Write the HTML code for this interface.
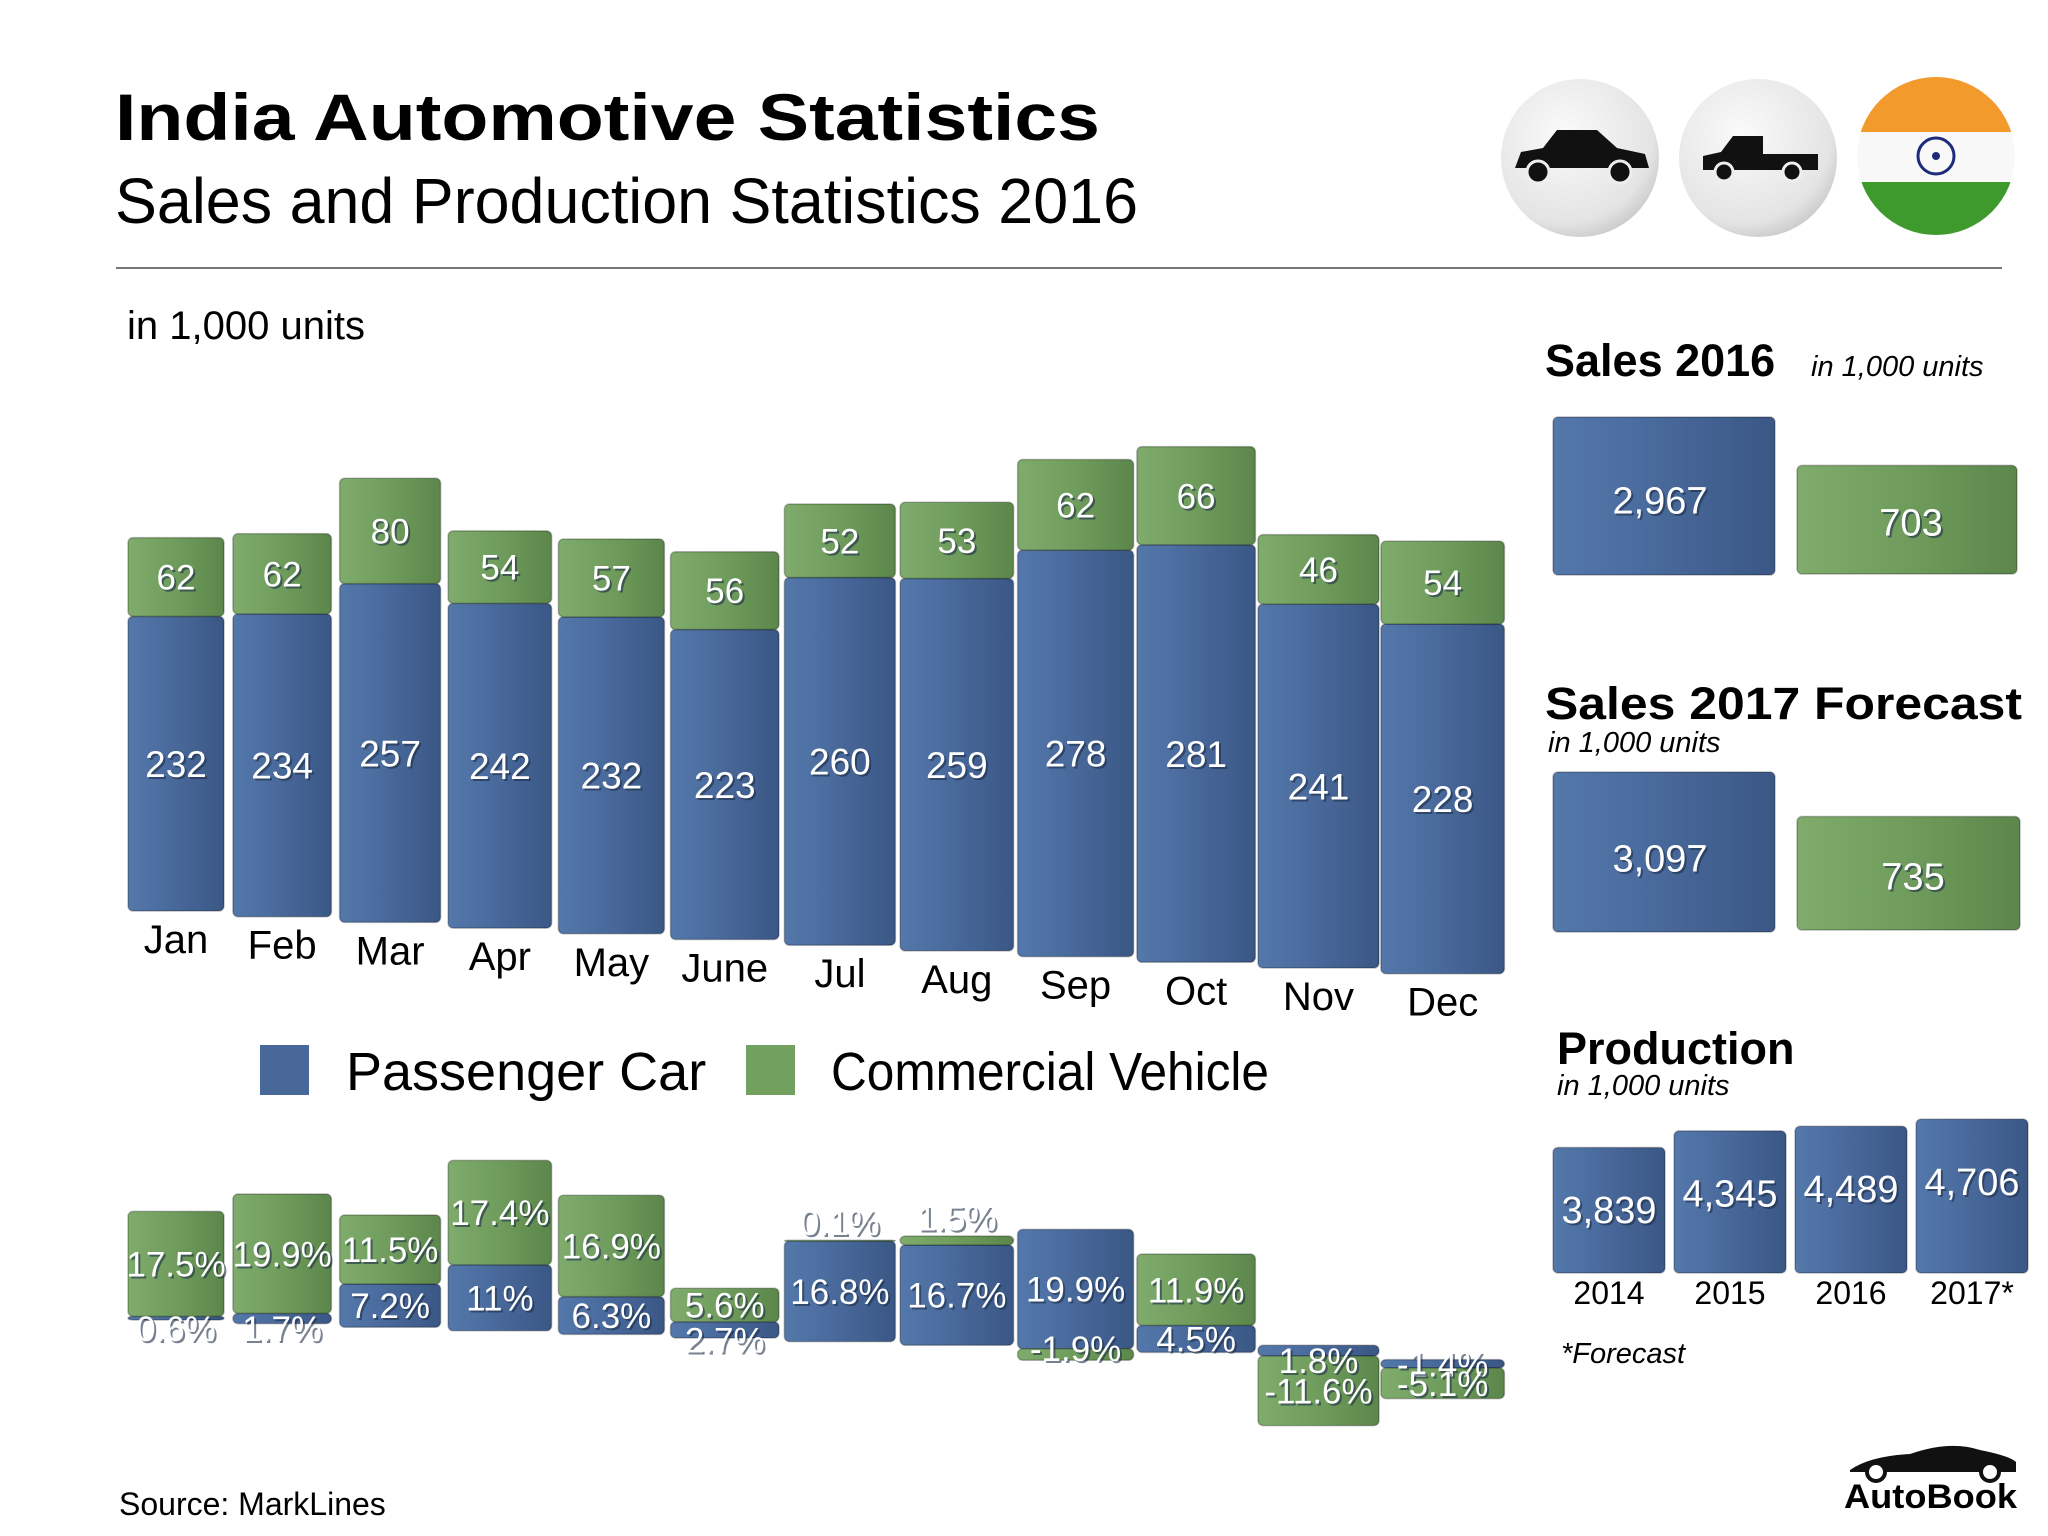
<!DOCTYPE html>
<html><head><meta charset="utf-8"><style>
html,body{margin:0;padding:0;background:#fff;}
svg{display:block;font-family:"Liberation Sans",sans-serif;}
.lbl{fill:#ffffff;}
.sh{fill:#1e2e48;opacity:0.6;}
</style></head><body>
<svg id="chart" width="2048" height="1536" viewBox="0 0 2048 1536">
<defs>
<linearGradient id="gb" x1="0" x2="1" y1="0" y2="0"><stop offset="0" stop-color="#5478ab"/><stop offset="0.5" stop-color="#48689a"/><stop offset="1" stop-color="#3a5785"/></linearGradient>
<linearGradient id="gg" x1="0" x2="1" y1="0" y2="0"><stop offset="0" stop-color="#7fac6c"/><stop offset="0.5" stop-color="#6f9c5c"/><stop offset="1" stop-color="#5c864b"/></linearGradient>
<radialGradient id="gc" cx="0.4" cy="0.35" r="0.7"><stop offset="0" stop-color="#fafafa"/><stop offset="0.8" stop-color="#e4e4e4"/><stop offset="1" stop-color="#c8c8c8"/></radialGradient>
</defs>
<text x="115" y="140" font-size="66" font-weight="bold" textLength="985" lengthAdjust="spacingAndGlyphs">India Automotive Statistics</text>
<text x="115" y="223" font-size="64" textLength="1023" lengthAdjust="spacingAndGlyphs">Sales and Production Statistics 2016</text>
<line x1="116" y1="268" x2="2002" y2="268" stroke="#777" stroke-width="2"/>

<g><circle cx="1580" cy="158" r="79" fill="url(#gc)"/><path d="M1515 168 l6-16 22-4 14-18 h40 l20 18 28 6 4 14z" fill="#111"/><circle cx="1538" cy="172" r="11" fill="#111" stroke="#eee" stroke-width="3"/><circle cx="1620" cy="172" r="11" fill="#111" stroke="#eee" stroke-width="3"/></g>
<g><circle cx="1758" cy="158" r="79" fill="url(#gc)"/><path d="M1703 170 v-14 l18-4 12-16 h30 v18 h55 v16z" fill="#111"/><circle cx="1724" cy="172" r="9" fill="#111" stroke="#eee" stroke-width="3"/><circle cx="1792" cy="172" r="9" fill="#111" stroke="#eee" stroke-width="3"/></g>
<g><clipPath id="fc"><circle cx="1936" cy="156" r="79"/></clipPath><g clip-path="url(#fc)"><rect x="1857" y="77" width="158" height="55" fill="#f39a2c"/><rect x="1857" y="132" width="158" height="50" fill="#f8f8f8"/><rect x="1857" y="182" width="158" height="55" fill="#3f9a2e"/></g><circle cx="1936" cy="156" r="18" fill="none" stroke="#1d2b7a" stroke-width="3"/><circle cx="1936" cy="156" r="4" fill="#1d2b7a"/></g>

<text x="127" y="339" font-size="40">in 1,000 units</text>
<g id="main"></g>
<g id="pct"></g>
<g id="side"></g>
<g id="labels"></g>

<rect x="260" y="1045" width="49" height="50" fill="#48689a"/>
<text x="346" y="1090" font-size="54">Passenger Car</text>
<rect x="746" y="1045" width="49" height="50" fill="#72a05f"/>
<text x="831" y="1090" font-size="54" textLength="438" lengthAdjust="spacingAndGlyphs">Commercial Vehicle</text>

<text x="119" y="1515" font-size="32">Source:  MarkLines</text>
<g><path d="M1850 1470 q20-14 60-16 q40-14 70-4 q30 6 36 12 v10 h-166z" fill="#111"/><circle cx="1876" cy="1472" r="9" fill="#fff" stroke="#111" stroke-width="4"/><circle cx="1990" cy="1472" r="9" fill="#fff" stroke="#111" stroke-width="4"/><text x="1844" y="1508" font-size="34" font-weight="bold" textLength="173" lengthAdjust="spacingAndGlyphs">AutoBook</text></g>

<text x="1545" y="376" font-size="45" font-weight="bold">Sales 2016</text>
<text x="1811" y="376" font-size="29" font-style="italic">in 1,000 units</text>
<text x="1545" y="719" font-size="45" font-weight="bold" textLength="477" lengthAdjust="spacingAndGlyphs">Sales 2017 Forecast</text>
<text x="1548" y="752" font-size="29" font-style="italic">in 1,000 units</text>
<text x="1557" y="1064" font-size="45" font-weight="bold">Production</text>
<text x="1557" y="1095" font-size="29" font-style="italic">in 1,000 units</text>
<text x="1561" y="1363" font-size="29" font-style="italic">*Forecast</text>
</svg>
<script>
const months = ["Jan","Feb","Mar","Apr","May","June","Jul","Aug","Sep","Oct","Nov","Dec"];
const passengerSales = [232,234,257,242,232,223,260,259,278,281,241,228];
const commercialSales = [62,62,80,54,57,56,52,53,62,66,46,54];
const passengerGrowth = [0.6,1.7,7.2,11,6.3,2.7,16.8,16.7,19.9,4.5,1.8,-1.4];
const commercialGrowth = [17.5,19.9,11.5,17.4,16.9,5.6,0.1,1.5,-1.9,11.9,-11.6,-5.1];
const salesTotals = [2967,703];
const forecastTotals = [3097,735];
const prodYears = ["2014","2015","2016","2017*"];
const prodValues = [3839,4345,4489,4706];

const NS="http://www.w3.org/2000/svg";
const labelsLayer=document.getElementById('labels');
function mk(parent,tag,attrs,txt){const e=document.createElementNS(NS,tag);for(const k in attrs)e.setAttribute(k,attrs[k]);if(txt!==undefined)e.textContent=txt;parent.appendChild(e);return e;}
function barLeft(i){return 128+i*104+i*i*0.9;}
function barWidth(i){return 96+i*2.5;}
function mainBase(i){return 911+i*5.7;}
function mainScale(i){return 1.27+i*0.024;}
function pctBase(i){return 1320+i*3.6;}
const pctScale=6;
function box(g,x,y,w,h,fill){return mk(g,'rect',{x:x,y:y,width:w,height:Math.max(h,1),rx:5,fill:fill,stroke:'rgba(0,0,0,0.25)','stroke-width':1.5});}
function label(name,x,y,t,size){
  const yy=y+size*0.36;
  const s=mk(labelsLayer,'text',{x:x+2,y:yy+2,'font-size':size,'text-anchor':'middle','class':'sh'},t);
  
  
  const e=mk(labelsLayer,'text',{x:x,y:yy,'font-size':size,'text-anchor':'middle','class':'lbl'},t);
  
  
  return e;
}

const main=document.getElementById('main');
months.forEach((m,i)=>{
  const x=barLeft(i),w=barWidth(i),b=mainBase(i),k=mainScale(i);
  const hp=passengerSales[i]*k,hc=commercialSales[i]*k;
  const gp=mk(main,'g',{});
  
  
  box(gp,x,b-hp,w,hp,'url(#gb)');
  label('value-passenger-'+m.toLowerCase(),x+w/2,b-hp/2,String(passengerSales[i]),37);
  const gc=mk(main,'g',{});
  
  
  box(gc,x,b-hp-hc,w,hc,'url(#gg)');
  label('value-commercial-'+m.toLowerCase(),x+w/2,b-hp-hc/2,String(commercialSales[i]),35);
  const t=mk(main,'text',{x:x+w/2,y:b+42,'font-size':40,'text-anchor':'middle'},m);
  
  
});

const pct=document.getElementById('pct');
months.forEach((m,i)=>{
  const x=barLeft(i),w=barWidth(i),b=pctBase(i);
  const p=passengerGrowth[i],c=commercialGrowth[i];
  const hp=Math.abs(p)*pctScale;
  const py=p>=0?b-hp:b;
  let cy0;
  const hc=Math.abs(c)*pctScale;
  if(c>=0){cy0=(p>=0?py:b)-hc;}else{cy0=(p<0?b+hp:b);}
  const gp=mk(pct,'g',{});
  
  
  box(gp,x,py,w,hp,'url(#gb)');
  const gc=mk(pct,'g',{});
  
  
  box(gc,x,cy0,w,hc,'url(#gg)');
  label('growth-passenger-label-'+m.toLowerCase(),x+w/2,py+hp/2+(hp<20?(p>=0?10:0):0),p+'%',35);
  let lcy=cy0+hc/2; if(hc<20) lcy=c>=0?cy0-18:cy0+hc/2-6;
  label('growth-commercial-label-'+m.toLowerCase(),x+w/2,lcy,c+'%',35);
});

const side=document.getElementById('side');
function sideBox(name,x,y,w,h,fill,val,tx,ty){
  const g=mk(side,'g',{});
  
  
  box(g,x,y,w,h,fill);
  label(name+'-value',tx,ty,val,38);
}
const sScale=158/2967;
const gScale=sScale*2.9;
sideBox('sales-2016-passenger',1553,575-salesTotals[0]*sScale,222,salesTotals[0]*sScale,'url(#gb)',salesTotals[0].toLocaleString('en-US'),1660,500);
sideBox('sales-2016-commercial',1797,574-salesTotals[1]*gScale,220,salesTotals[1]*gScale,'url(#gg)',String(salesTotals[1]),1911,522);
sideBox('forecast-2017-passenger',1553,932-forecastTotals[0]*sScale*0.97,222,forecastTotals[0]*sScale*0.97,'url(#gb)',forecastTotals[0].toLocaleString('en-US'),1660,858);
sideBox('forecast-2017-commercial',1797,930-forecastTotals[1]*gScale,223,forecastTotals[1]*gScale,'url(#gg)',String(forecastTotals[1]),1913,876);
prodYears.forEach((y,i)=>{
  const x=1553+i*121,w=112,h=prodValues[i]*0.0327,base=1273;
  const g=mk(side,'g',{});
  
  
  box(g,x,base-h,w,h,'url(#gb)');
  label('production-value-'+y.replace('*',''),x+w/2,base-h+62,prodValues[i].toLocaleString('en-US'),38);
  const t=mk(side,'text',{x:x+w/2,y:1304,'font-size':32,'text-anchor':'middle'},y);
  
  
});
</script>
</body></html>
